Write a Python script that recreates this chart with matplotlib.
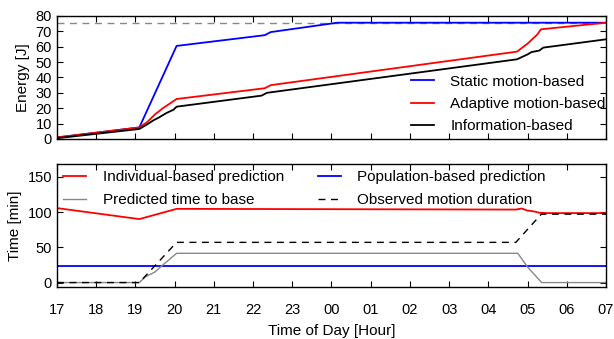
import matplotlib
matplotlib.use("Agg")
import matplotlib.pyplot as plt

plt.rcParams['font.family'] = ['Liberation Sans', 'DejaVu Sans']

# ---- Top panel data (hours since 17:00 on a continuous axis; 24 = midnight) ----
static_h = [17, 19.1, 20.05, 22.3, 22.45, 24.15, 31]
static_e = [1, 7.5, 60.5, 67.5, 69.5, 75.6, 75.6]

adaptive_h = [17, 19.1, 19.3, 19.5, 19.7, 20.05, 22.3, 22.45, 28.73, 29.0, 29.25, 29.34, 31]
adaptive_e = [1, 7.5, 11, 16, 20, 26, 33, 35, 56.8, 62, 68, 71.3, 75.6]

info_h = [17, 19.1, 19.3, 19.45, 19.6, 19.8, 19.97, 20.05, 22.22, 22.35,
          28.73, 29.0, 29.1, 29.3, 29.4, 31]
info_e = [0.5, 6.5, 9.5, 12, 14, 17, 19, 21, 28.2, 30,
          51.8, 55, 56.5, 57.5, 59.4, 64.8]

energy_cap = 75.6

# ---- Bottom panel data ----
indiv_h = [17, 19.1, 20.05, 28.7, 28.85, 29.0, 29.15, 29.3, 29.5, 31]
indiv_t = [105.6, 90, 104.5, 103.5, 105, 102, 101, 99, 98.5, 98.5]

pop_h = [17, 31]
pop_t = [24, 24]

pred_h = [17, 19.1, 19.25, 19.5, 19.7, 20.05, 28.75, 29.0, 29.36, 31]
pred_t = [0, 0, 8, 15, 25, 41.5, 41.5, 22, 0, 0]

obs_h = [17, 19.1, 20.05, 28.7, 29.35, 31]
obs_t = [0, 0, 57, 57, 97, 97]

hour_ticks = list(range(17, 32))
hour_labels = ['17', '18', '19', '20', '21', '22', '23', '00', '01', '02',
               '03', '04', '05', '06', '07']

fig = plt.figure(figsize=(6.14, 3.39), dpi=100)
ax1 = fig.add_axes([0.0928, 0.590, 0.8942, 0.363])
ax2 = fig.add_axes([0.0928, 0.154, 0.8942, 0.362])

fs = 11
tfs = 10.5
lw = 1.3

ax1.plot([17, 31], [energy_cap, energy_cap], color='#888888', ls=(0, (5, 4)), lw=1.0)
ax1.plot(static_h, static_e, color='#0000ff', lw=lw, label='Static motion-based')
ax1.plot(adaptive_h, adaptive_e, color='#ff0000', lw=lw, label='Adaptive motion-based')
ax1.plot(info_h, info_e, color='black', lw=lw, label='Information-based')
ax1.set_xlim(17, 31)
ax1.set_ylim(0, 80)
ax1.set_yticks(range(0, 81, 10))
ax1.set_xticks(hour_ticks)
ax1.set_xticklabels([])
ax1.set_ylabel('Energy [J]', fontsize=fs, labelpad=4)
ax1.legend(loc='lower right', frameon=False, fontsize=fs, handlelength=1.5,
           handletextpad=1.05, labelspacing=0.55, borderaxespad=0.0, borderpad=0.2,
           bbox_to_anchor=(1.005, 0.02))

l_ind, = ax2.plot(indiv_h, indiv_t, color='#ff0000', lw=lw, label='Individual-based prediction')
l_pop, = ax2.plot(pop_h, pop_t, color='#0000ff', lw=lw, label='Population-based prediction')
l_pred, = ax2.plot(pred_h, pred_t, color='#888888', lw=1.0, label='Predicted time to base')
l_obs, = ax2.plot(obs_h, obs_t, color='black', lw=1.0, ls=(0, (5, 4)), label='Observed motion duration')
ax2.set_xlim(17, 31)
ax2.set_ylim(-6, 168)
ax2.set_yticks([0, 50, 100, 150])
ax2.set_xticks(hour_ticks)
ax2.set_xticklabels(hour_labels)
ax2.set_ylabel('Time [min]', fontsize=fs, labelpad=4)
ax2.set_xlabel('Time of Day [Hour]', fontsize=fs, labelpad=5)
ax2.legend(handles=[l_ind, l_pred, l_pop, l_obs], loc='upper left', ncol=2,
           frameon=False, fontsize=fs, handlelength=1.5, handletextpad=1.1,
           labelspacing=0.6, columnspacing=2.2, borderaxespad=0.0, borderpad=0.4)

for ax in (ax1, ax2):
    ax.tick_params(direction='in', top=True, right=True, labelsize=tfs, length=4, width=0.8)
    ax.tick_params(axis='x', pad=12)
    for s in ax.spines.values():
        s.set_linewidth(1.0)

fig.savefig('out.png', dpi=100)
